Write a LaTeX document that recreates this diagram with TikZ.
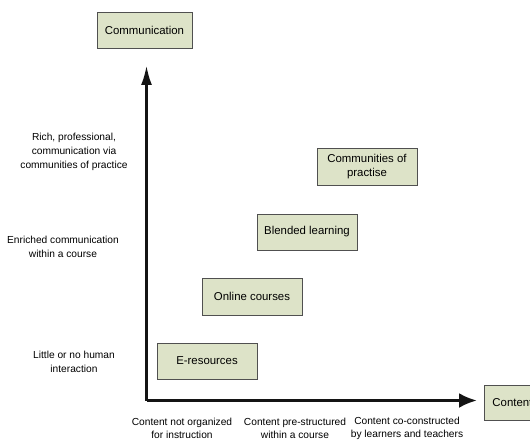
\documentclass[tikz,border=0pt]{standalone}
\usepackage{fontspec}
\setmainfont{Liberation Sans}
\usetikzlibrary{arrows.meta}
\definecolor{boxfill}{RGB}{221,227,200}
\definecolor{boxline}{RGB}{80,80,80}
\definecolor{axis}{RGB}{20,20,20}
\begin{document}
\begin{tikzpicture}[x=1pt,y=-1pt,
  box/.style={draw=boxline, line width=0.9pt, fill=boxfill, minimum width=100pt, minimum height=36pt,
    align=center, inner sep=2pt, font=\fontsize{11.4}{14}\selectfont},
  lbl/.style={align=center, inner sep=0pt, font=\fontsize{10.2}{14}\selectfont},
  blbl/.style={align=center, inner sep=0pt, font=\fontsize{10.2}{13}\selectfont}]
\useasboundingbox (0,0) rectangle (530,441);
\clip (0,0) rectangle (530,441);
% axes
\coordinate (O) at (146.5,400.5);
\coordinate (ytop) at (146.5,65);
\coordinate (xend) at (477,400.5);
\draw[axis, line width=3pt, -{Latex[length=20pt,width=11pt]}] (O) -- (ytop);
\draw[axis, line width=3pt, -{Latex[length=18pt,width=15pt]}] (O) -- (xend);
% axis titles
\node[box, minimum width=95pt] (comm) at (144.5,30) {Communication};
\node[box, minimum width=0pt, minimum height=35pt, inner xsep=8pt, anchor=west] (cont) at (484,402.5) {Content};
% items
\node[box, minimum height=37pt] (cop) at (367,166.5) {Communities of\\practise};
\node[box] (bl) at (307,232) {Blended learning};
\node[box, minimum height=37pt] (oc) at (252,296.5) {Online courses};
\node[box] (er) at (207,361) {E-resources};
% left labels
\node[lbl] (l3) at (74,152) {Rich, professional,\\communication via\\communities of practice};
\node[lbl] (l2) at (63,247) {Enriched communication\\within a course};
\node[lbl] (l1) at (74,362) {Little or no human\\interaction};
% bottom labels
\node[blbl] (b1) at (182,428) {Content not organized\\for instruction};
\node[blbl] (b2) at (295,428) {Content pre-structured\\within a course};
\node[blbl] (b3) at (407,428) {Content co-constructed\\by learners and teachers};
\end{tikzpicture}
\end{document}
